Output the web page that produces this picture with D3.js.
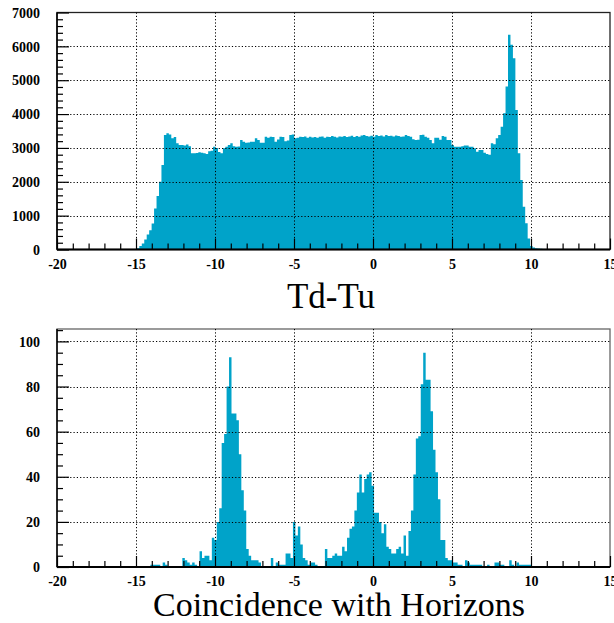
<!DOCTYPE html>
<html><head><meta charset="utf-8">
<script src="https://cdn.jsdelivr.net/npm/d3@7"></script>
<style>html,body{margin:0;padding:0;background:#fff}svg{display:block}</style>
</head><body>
<svg id="chart" width="614" height="623"></svg>
<script>
// ---------- data ----------
const binWidth = 35 / 225;               // histogram bin width (x units)
const topBinStart = -15.1;               // lower edge of first listed bin, Td-Tu
const topCounts = [15,40,100,177,296,444,571,769,1213,1577,2000,2494,3382,3432,3400,3284,3320,3136,3086,3090,3070,3100,3050,2840,2840,2850,2870,2860,2840,2820,2900,2920,3036,3000,2880,2840,2990,3036,3086,3136,3050,3036,3040,3235,3185,3150,3160,3185,3185,3284,3235,3150,3150,3333,3300,3333,3320,3185,3250,3333,3320,3200,3220,3382,3400,3284,3300,3333,3320,3340,3300,3333,3310,3320,3300,3333,3340,3300,3333,3320,3350,3333,3310,3340,3333,3350,3320,3340,3360,3320,3350,3333,3370,3382,3350,3340,3360,3330,3382,3350,3370,3340,3382,3350,3360,3340,3370,3350,3333,3340,3380,3350,3333,3260,3235,3240,3382,3390,3333,3300,3235,3136,3300,3300,3240,3350,3330,3235,3235,3086,3036,3036,3036,3050,3070,3070,3036,3036,2990,2890,2940,2940,2860,2820,2800,3136,3110,3284,3382,3627,4024,4811,6340,6044,5651,4121,2840,2050,1260,778,325,100,60,40,30,20,10];
const bottomBinStart = -20 + 38 * 35 / 225; // lower edge of first listed bin, Coincidence
const bottomCounts = [1,1,1,1,0,2,1,0,0,0,0,0,0,4,3,2,1,2,1,0,7,4,5,5,3,13,12,20,26,55,59,80,93,68,68,65,50,34,25,8,5,3,3,3,2,0,0,0,0,4,0,2,1,1,1,6,6,4,20,14,18,10,4,3,1,2,2,1,0,0,0,8,4,4,5,6,5,5,9,7,13,17,18,25,33,41,33,39,41,42,36,24,24,20,15,19,9,8,6,6,8,9,6,14,5,16,25,41,57,58,81,95,83,83,69,52,42,30,12,12,4,3,3,2,2,1,1,0,3,2,1,1,1,1,1,0,0,1,0,0,2,2,1,1,0,0,3,1,0,2,1,1,1,1,1];
const xDomain = [-20, 15];
const xMajorTicks = [-20, -15, -10, -5, 0, 5, 10, 15];
const topYTicks = [0, 1000, 2000, 3000, 4000, 5000, 6000, 7000];
const bottomYTicks = [0, 20, 40, 60, 80, 100];
const topTitle = "Td-Tu";
const bottomTitle = "Coincidence with Horizons";

// ---------- drawing ----------
const svg = d3.select("#chart");
svg.append("rect").attr("width", 614).attr("height", 623).attr("fill", "#fff");
const FILL = "#00a3c9";
const left = 57, right = 610;
const x = d3.scaleLinear().domain(xDomain).range([left, right]);
const LABEL_FONT = "'Liberation Serif', 'Times New Roman', serif";

function panel(cfg) {
  const g = svg.append("g");
  const y = d3.scaleLinear().domain(cfg.yDomain).range([cfg.bottom, cfg.top]);
  // histogram as a step-filled area
  const pts = cfg.counts.map((v, i) => ({x: cfg.start + i * binWidth, v}));
  pts.unshift({x: cfg.start, v: 0});
  pts.push({x: cfg.start + cfg.counts.length * binWidth, v: 0});
  const area = d3.area().curve(d3.curveStepAfter)
    .x(d => x(d.x)).y0(y(0)).y1(d => y(d.v));
  g.append("path").datum(pts).attr("d", area).attr("fill", FILL).attr("stroke", "none");
  // frame
  g.append("rect").attr("x", left).attr("y", cfg.top).attr("width", right - left).attr("height", cfg.bottom - cfg.top)
    .attr("fill", "none").attr("stroke", cfg.frameColor).attr("stroke-width", 1.3);
  // grid
  const grid = g.append("g").attr("stroke", "#000").attr("stroke-width", 1).attr("stroke-dasharray", "1.2,2.1");
  grid.selectAll(".vx").data(xMajorTicks.filter(t => t > xDomain[0] && t < xDomain[1])).join("line")
    .attr("x1", d => Math.round(x(d)) + 0.5).attr("x2", d => Math.round(x(d)) + 0.5)
    .attr("y1", cfg.top).attr("y2", cfg.bottom);
  grid.selectAll(".hy").data(cfg.yTicks.filter(t => t > 0 && y(t) > cfg.top + 1)).join("line")
    .attr("y1", d => Math.round(y(d)) + 0.5).attr("y2", d => Math.round(y(d)) + 0.5)
    .attr("x1", left).attr("x2", right);
  // x axis
  const xAxis = d3.axisBottom(x).tickValues(xMajorTicks).tickSize(-11).tickPadding(0).tickFormat(d => String(d));
  const xa = g.append("g").attr("transform", `translate(0,${cfg.bottom})`).call(xAxis);
  const xMinor = d3.axisBottom(x).tickValues(d3.range(xDomain[0], xDomain[1] + 1, 1).filter(t => t % 5 !== 0)).tickSize(-6).tickFormat("");
  const xm = g.append("g").attr("transform", `translate(0,${cfg.bottom})`).call(xMinor);
  // y axis
  const yAxis = d3.axisLeft(y).tickValues(cfg.yTicks).tickSize(-12).tickPadding(0).tickFormat(d => String(d));
  const ya = g.append("g").attr("transform", `translate(${left},0)`).call(yAxis);
  const yMinor = d3.axisLeft(y).tickValues(d3.range(0, cfg.yDomain[1] + 1e-6, cfg.yMinor).filter(t => t % cfg.yMajor !== 0)).tickSize(-6).tickFormat("");
  const ym = g.append("g").attr("transform", `translate(${left},0)`).call(yMinor);
  [xa, xm, ya, ym].forEach(a => {
    a.select(".domain").remove();
    a.selectAll(".tick line").attr("stroke", "#000").attr("stroke-width", 1.2);
  });
  xa.selectAll(".tick text").attr("y", 19).attr("dy", 0)
    .style("font-family", LABEL_FONT).style("font-weight", "bold").style("font-size", "14px").attr("fill", "#000");
  ya.selectAll(".tick text").attr("x", -17).attr("dy", "0.34em")
    .style("font-family", LABEL_FONT).style("font-weight", "bold").style("font-size", "14px").attr("fill", "#000");
  // axis lines
  g.append("line").attr("x1", left).attr("x2", left).attr("y1", cfg.top).attr("y2", cfg.bottom).attr("stroke", "#000").attr("stroke-width", 1.5);
  g.append("line").attr("x1", left).attr("x2", right).attr("y1", cfg.bottom).attr("y2", cfg.bottom).attr("stroke", "#000").attr("stroke-width", 2);
  // title
  g.append("text").attr("x", cfg.titleX).attr("y", cfg.titleY).attr("text-anchor", "middle")
    .style("font-family", LABEL_FONT).style("font-size", cfg.titleSize).attr("fill", "#000")
    .text(cfg.title);
}

panel({counts: topCounts, start: topBinStart, yDomain: [0, 7000], top: 12.5, bottom: 249.5,
  yTicks: topYTicks, yMajor: 1000, yMinor: 200, frameColor: "#222", title: topTitle, titleX: 331, titleY: 307.5, titleSize: "35px"});
panel({counts: bottomCounts, start: bottomBinStart, yDomain: [0, 105.5], top: 329, bottom: 567,
  yTicks: bottomYTicks, yMajor: 20, yMinor: 5, frameColor: "#666", title: bottomTitle, titleX: 339, titleY: 616, titleSize: "34px"});
</script>
</body></html>
